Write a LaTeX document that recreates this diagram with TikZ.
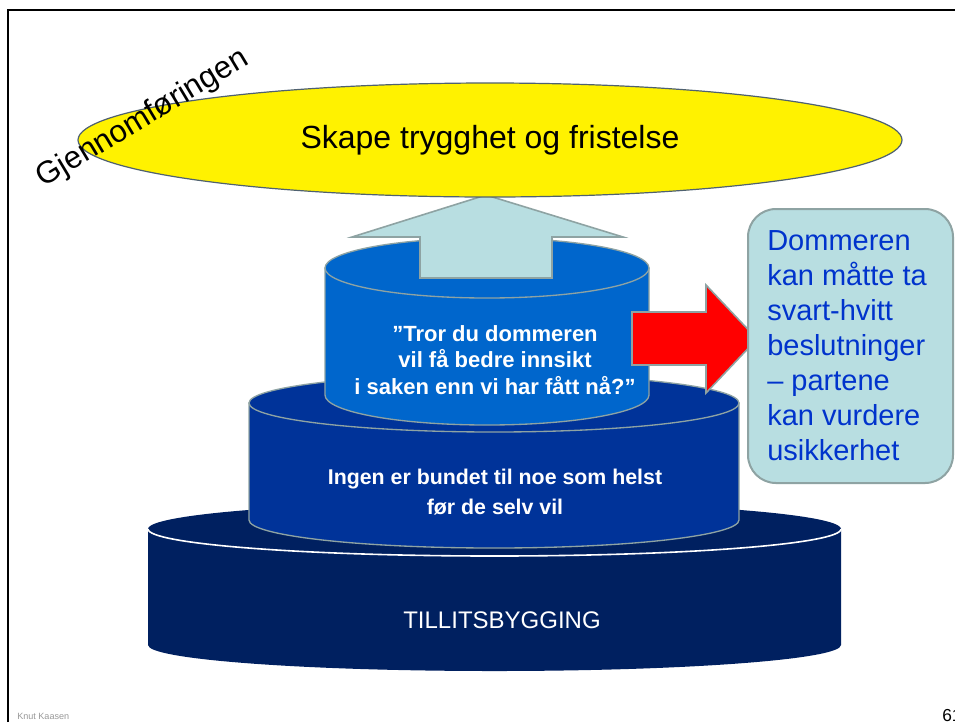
\documentclass[tikz,border=0pt]{standalone}
\usepackage{fontspec}
\setmainfont{Liberation Sans}
\definecolor{navyc}{HTML}{002060}
\definecolor{midc}{HTML}{003399}
\definecolor{topc}{HTML}{0066CC}
\definecolor{outl}{HTML}{8EA3A3}
\definecolor{lteal}{HTML}{B8DEE1}
\definecolor{boxtext}{HTML}{0033CC}
\definecolor{ellout}{HTML}{4F6170}
\tikzset{
  cyltext/.style={text=white, font=\bfseries\fontsize{16.5pt}{19.5pt}\selectfont, align=center, inner sep=0pt},
  blockarrow/.style={draw=outl, line width=1.2pt, line join=miter},
}
\begin{document}
\begin{tikzpicture}[x=0.75pt,y=0.75pt]
\useasboundingbox (0,0) rectangle (955,-722);
\fill[white] (0,0) rectangle (955,-722);
% frame
\draw[line width=1.5pt] (8,-722) -- (8,-10) -- (955,-10);

% bottom cylinder
\fill[navyc] (148,-529) -- (148,-645) arc[start angle=180,end angle=360,x radius=346.5,y radius=26] -- (841,-529) arc[start angle=0,end angle=180,x radius=346.5,y radius=27] -- cycle;
\draw[white,line width=1.2pt] (148,-529) arc[start angle=180,end angle=360,x radius=346.5,y radius=27];
\node[text=white, font=\fontsize{18pt}{21pt}\selectfont, inner sep=0pt] (base) at (502,-620) {TILLITSBYGGING};

% middle cylinder
\filldraw[fill=midc, draw=outl, line width=1pt] (249,-403) -- (249,-520) arc[start angle=180,end angle=360,x radius=245,y radius=28] -- (739,-403) -- cycle;
\filldraw[fill=midc, draw=outl, line width=1pt] (494,-403) ellipse [x radius=245, y radius=29];
\node[cyltext, font=\bfseries\fontsize{16pt}{23pt}\selectfont] (mid) at (495,-492) {Ingen er bundet til noe som helst\\før de selv vil};

% top cylinder
\filldraw[fill=topc, draw=outl, line width=1pt] (325,-268) -- (325,-395) arc[start angle=180,end angle=360,x radius=162,y radius=30] -- (649,-268) -- cycle;
\filldraw[fill=topc, draw=outl, line width=1pt] (487,-268) ellipse [x radius=162, y radius=30];
\node[cyltext, font=\bfseries\fontsize{16.5pt}{20pt}\selectfont] (top) at (495,-360) {”Tror du dommeren\\vil få bedre innsikt\\i saken enn vi har fått nå?”};

% light up arrow
\filldraw[fill=lteal, blockarrow] (420,-278) -- (420,-237) -- (352,-237) -- (486,-195) -- (623,-237) -- (552,-237) -- (552,-278) -- cycle;

% yellow ellipse
\filldraw[fill=yellow, draw=ellout, line width=0.9pt] (490,-140) ellipse [x radius=412, y radius=57];
\node[font=\fontsize{24pt}{28pt}\selectfont, inner sep=0pt] (goal) at (490,-140) {Skape trygghet og fristelse};
\node[font=\fontsize{23.4pt}{27pt}\selectfont, inner sep=0pt, rotate=31] (phase) at (143,-119) {Gjennomføringen};

% red arrow
\filldraw[fill=red, blockarrow] (632,-312) -- (706,-312) -- (706,-285) -- (757,-339) -- (706,-393) -- (706,-365) -- (632,-365) -- cycle;

% box
\filldraw[fill=lteal, draw=outl, line width=1.5pt, rounded corners=21pt] (748,-209) rectangle (953,-483);
\node[anchor=north west, inner sep=0pt, align=left, text=boxtext, font=\fontsize{21.75pt}{26.25pt}\selectfont] (note) at (767,-230) {Dommeren\\kan måtte ta\\svart-hvitt\\beslutninger\\– partene\\kan vurdere\\usikkerhet};

% footer
\node[anchor=base west, inner sep=0pt, text=black!40, font=\fontsize{6.8pt}{8pt}\selectfont] (author) at (17,-719) {Knut Kaasen};
\node[anchor=base west, inner sep=0pt, font=\fontsize{13pt}{15pt}\selectfont] (page) at (942,-721) {61};
\end{tikzpicture}
\end{document}
